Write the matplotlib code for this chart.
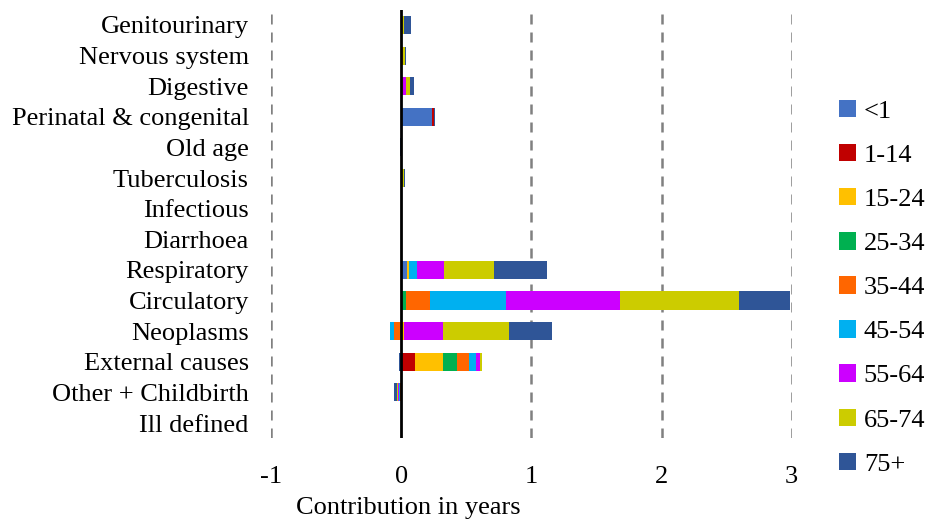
import numpy as np
import matplotlib
matplotlib.use('Agg')
from matplotlib import pyplot as plt

plt.rcParams['font.family'] = ['Liberation Serif', 'DejaVu Serif']
plt.rcParams['axes.unicode_minus'] = False

categories = ['Genitourinary', 'Nervous system', 'Digestive', 'Perinatal & congenital',
              'Old age', 'Tuberculosis', 'Infectious', 'Diarrhoea', 'Respiratory',
              'Circulatory', 'Neoplasms', 'External causes', 'Other + Childbirth', 'Ill defined']

age_groups = ['<1', '1-14', '15-24', '25-34', '35-44', '45-54', '55-64', '65-74', '75+']
colors = ['#4472C4', '#C00000', '#FFC000', '#00B050', '#FF6600',
          '#00B0F0', '#CC00FF', '#CCCC00', '#2F5597']

# values per age group, same order as categories (top to bottom)
lt1   = [0, 0, 0, 0.240, 0, 0, 0, 0, 0.048, 0, 0, 0.004, 0, 0]
a1_14 = [0, 0, 0.004, 0.012, 0, 0, 0, 0, 0, 0, 0, 0.100, -0.003, 0]
a15_24 = [0, 0.008, 0, 0, 0, 0, 0, 0, 0.008, 0, 0.020, 0.215, 0, 0]
a25_34 = [0, 0, 0, 0, 0, 0, 0, 0, 0, 0.033, 0, 0.108, 0, 0]
a35_44 = [0, 0.008, 0.012, 0, 0, 0, 0, 0, 0.007, 0.190, -0.054, 0.092, -0.008, 0]
a45_54 = [0, 0, 0, 0, 0, 0, 0, 0.006, 0.062, 0.580, -0.031, 0.054, -0.005, 0]
a55_64 = [0.003, 0, 0.022, 0, 0, 0.008, 0, 0, 0.200, 0.877, 0.300, 0.031, -0.005, 0]
a65_74 = [0.020, 0.015, 0.030, 0, 0, 0.015, 0, 0, 0.385, 0.915, 0.508, 0.015, -0.010, 0]
a75 = [0.054, 0.008, 0.028, 0.005, -0.010, 0.008, 0.008, 0, 0.408, 0.390, 0.330, -0.015, -0.023, 0.008]

series = [lt1, a1_14, a15_24, a25_34, a35_44, a45_54, a55_64, a65_74, a75]

fig = plt.figure(figsize=(9.26, 5.26), dpi=100)
ax = fig.add_axes([0.2927, 0.1667, 0.5626, 0.815])

y = np.arange(len(categories))
pos_base = np.zeros(len(categories))
neg_base = np.zeros(len(categories))
for vals, col, lab in zip(series, colors, age_groups):
    v = np.array(vals, dtype=float)
    left = np.where(v >= 0, pos_base, neg_base)
    ax.barh(y, v, left=left, height=0.59, color=col, label=lab, zorder=2)
    pos_base += np.where(v >= 0, v, 0)
    neg_base += np.where(v < 0, v, 0)

ax.set_xlim(-1, 3.002)
ax.set_ylim(len(categories) - 0.5, -0.5)
ax.set_xticks([-1, 0, 1, 2, 3])
ax.set_yticks(y)
ax.set_yticklabels(categories)
for xv in [-1, 1, 2, 3]:
    ax.axvline(xv, color='#808080', lw=1.8, ls=(0, (4, 3.2)), zorder=1)
ax.axvline(0, color='black', lw=2, zorder=3)

for s in ax.spines.values():
    s.set_visible(False)
ax.tick_params(axis='both', length=0, labelsize=19)
ax.tick_params(axis='x', pad=20)
ax.tick_params(axis='y', pad=16)

fig.text(408 / 926, 1 - 508 / 526, 'Contribution in years', ha='center', va='center', fontsize=19)

ax.legend(loc='center left', bbox_to_anchor=(0.906, 0.453), bbox_transform=fig.transFigure,
          frameon=False, fontsize=19, handlelength=0.64, handleheight=0.64,
          handletextpad=0.3, labelspacing=0.8, borderpad=0, borderaxespad=0)

plt.savefig('out.png', dpi=100)
